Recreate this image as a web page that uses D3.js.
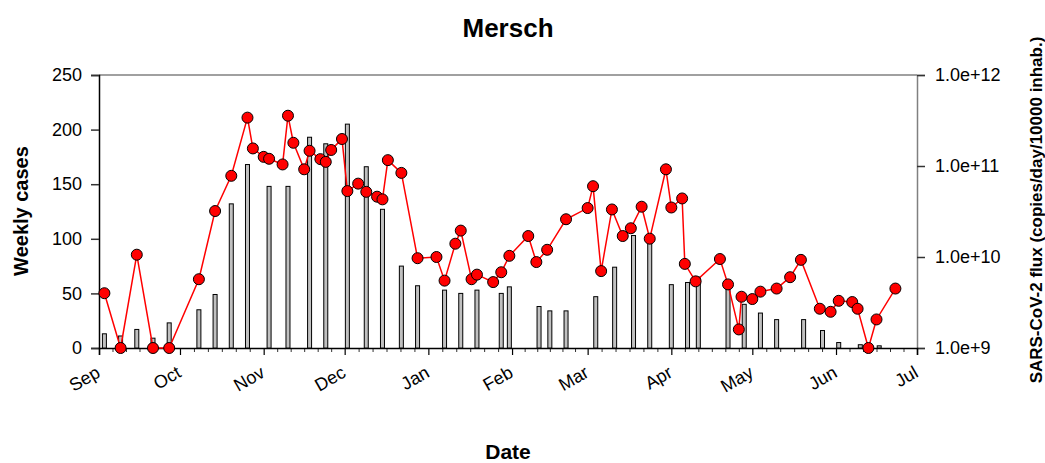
<!doctype html>
<html>
<head>
<title>Mersch</title>
<script src="https://d3js.org/d3.v7.min.js"></script>
<style>
body { margin: 0; background: #fff; }
svg text { font-family: Arial, "Liberation Sans", sans-serif; fill: #000; }
.tick text { font-size: 18px; }
</style>
</head>
<body>
<svg width="1045" height="463"></svg>
<script>

// weekly cases (bars)
var caseDates = ["2020-09-03","2020-09-09","2020-09-15","2020-09-21","2020-09-27","2020-10-08","2020-10-14",
  "2020-10-20","2020-10-26","2020-11-03","2020-11-10","2020-11-18","2020-11-24","2020-12-02","2020-12-09",
  "2020-12-15","2020-12-22","2020-12-28","2021-01-07","2021-01-13","2021-01-19","2021-01-28","2021-01-31",
  "2021-02-11","2021-02-15","2021-02-21","2021-03-04","2021-03-11","2021-03-18","2021-03-24","2021-04-01",
  "2021-04-07","2021-04-11","2021-04-22","2021-04-28","2021-05-04","2021-05-10","2021-05-20","2021-05-27",
  "2021-06-02","2021-06-10","2021-06-17"];
var caseValues = [13,11,17,9,23,35,49,132,168,148,148,193,187,205,166,127,75,57,53,50,53,50,56,
  38,34,34,47,74,103,98,58,60,65,56,40,32,26,26,16,5,3,2];

// SARS-CoV-2 flux (red points, log axis)
var fluxDates = ["2020-09-03","2020-09-09","2020-09-15","2020-09-21","2020-09-27","2020-10-08","2020-10-14",
  "2020-10-20","2020-10-26","2020-10-28","2020-11-01","2020-11-03","2020-11-08","2020-11-10","2020-11-12",
  "2020-11-16","2020-11-18","2020-11-22","2020-11-24","2020-11-26","2020-11-30","2020-12-02","2020-12-06",
  "2020-12-09","2020-12-13","2020-12-15","2020-12-17","2020-12-22","2020-12-28","2021-01-04","2021-01-07",
  "2021-01-11","2021-01-13","2021-01-17","2021-01-19","2021-01-25","2021-01-28","2021-01-31","2021-02-07",
  "2021-02-10","2021-02-14","2021-02-21","2021-03-01","2021-03-03","2021-03-06","2021-03-10","2021-03-14",
  "2021-03-17","2021-03-21","2021-03-24","2021-03-30","2021-04-01","2021-04-05","2021-04-06","2021-04-10",
  "2021-04-19","2021-04-22","2021-04-26","2021-04-27","2021-05-01","2021-05-04","2021-05-10","2021-05-15",
  "2021-05-19","2021-05-26","2021-05-30","2021-06-02","2021-06-07","2021-06-09","2021-06-13","2021-06-16",
  "2021-06-23"];
var fluxValues = [4.0e9,1.0e9,1.06e10,1.0e9,1.0e9,5.7e9,3.2e10,
  7.8e10,3.4e11,1.56e11,1.26e11,1.2e11,1.04e11,3.57e11,1.8e11,
  9.2e10,1.47e11,1.19e11,1.11e11,1.5e11,1.98e11,5.3e10,6.4e10,
  5.2e10,4.6e10,4.3e10,1.16e11,8.4e10,9.7e9,1.0e10,5.5e9,
  1.4e10,1.95e10,5.7e9,6.4e9,5.3e9,6.8e9,1.03e10,1.7e10,
  8.8e9,1.2e10,2.6e10,3.45e10,6.0e10,7.0e9,3.33e10,1.7e10,
  2.07e10,3.57e10,1.59e10,9.2e10,3.5e10,4.4e10,8.4e9,5.4e9,
  9.5e9,5.0e9,1.6e9,3.66e9,3.45e9,4.16e9,4.5e9,6.0e9,
  9.3e9,2.7e9,2.5e9,3.3e9,3.2e9,2.7e9,1.0e9,2.06e9,
  4.5e9];

// axes
var monthTicks = ["2020-09-01","2020-10-01","2020-11-01","2020-12-01","2021-01-01","2021-02-01",
  "2021-03-01","2021-04-01","2021-05-01","2021-06-01","2021-07-01"];
var monthLabels = ["Sep","Oct","Nov","Dec","Jan","Feb","Mar","Apr","May","Jun","Jul"];
var leftTicks = [0,50,100,150,200,250];
var rightTicks = [1e9,1e10,1e11,1e12];

var parse = d3.utcParse("%Y-%m-%d");
var svg = d3.select("svg");
var plot = {left: 99, right: 917, top: 75, bottom: 348};

var x = d3.scaleUtc()
    .domain([parse(monthTicks[0]), parse(monthTicks[monthTicks.length - 1])])
    .range([plot.left, plot.right]);
var y = d3.scaleLinear().domain([0, 250]).range([plot.bottom, plot.top]);
var y2 = d3.scaleLog().domain([1e9, 1e12]).range([plot.bottom, plot.top]);

// frame top line
svg.append("line")
    .attr("x1", plot.left).attr("x2", plot.right).attr("y1", plot.top).attr("y2", plot.top)
    .attr("stroke", "#808080").attr("stroke-width", 1.5);

// left axis
var gl = svg.append("g")
    .attr("transform", "translate(" + plot.left + ",0)")
    .call(d3.axisLeft(y).tickValues(leftTicks).tickSize(8).tickPadding(9));
gl.select(".domain").attr("stroke", "#000").attr("stroke-width", 1.5);
gl.selectAll(".tick line").attr("stroke", "#333").attr("stroke-width", 1.5);

// right axis
var gr = svg.append("g")
    .attr("transform", "translate(" + plot.right + ",0)")
    .call(d3.axisRight(y2).tickValues(rightTicks).tickFormat(d3.format(".1e")).tickSize(8).tickPadding(10));
gr.select(".domain").attr("stroke", "#808080").attr("stroke-width", 1.5);
gr.selectAll(".tick line").attr("stroke", "#333").attr("stroke-width", 1.5);

// bottom axis: month ticks + minor ticks
var minor = [];
var mt = monthTicks.map(parse);
for (var i = 0; i < mt.length - 1; i++) {
  var a = mt[i].getTime(), b = mt[i + 1].getTime();
  for (var k = 1; k < 6; k++) minor.push(new Date(a + (b - a) * k / 6));
}
var gm = svg.append("g")
    .attr("transform", "translate(0," + plot.bottom + ")")
    .call(d3.axisBottom(x).tickValues(minor).tickSize(4).tickFormat(""));
gm.select(".domain").remove();
gm.selectAll(".tick line").attr("stroke", "#333");

var gb = svg.append("g")
    .attr("transform", "translate(0," + plot.bottom + ")")
    .call(d3.axisBottom(x).tickValues(mt).tickSize(7).tickFormat(""));
gb.select(".domain").attr("stroke", "#000").attr("stroke-width", 1.5);
gb.selectAll(".tick line").attr("stroke", "#000").attr("stroke-width", 1.2);

svg.append("g").selectAll("text")
    .data(monthLabels)
    .enter().append("text")
    .attr("transform", function(d, i) { return "translate(" + (x(mt[i]) - 4) + "," + (plot.bottom + 17) + ") rotate(-30)"; })
    .attr("text-anchor", "end")
    .attr("dy", "0.71em")
    .style("font-size", "18px")
    .text(function(d) { return d; });

// bars
var bw = 4;
svg.append("g").selectAll("rect")
    .data(caseDates)
    .enter().append("rect")
    .attr("x", function(d) { return x(parse(d)) - bw / 2; })
    .attr("y", function(d, i) { return y(caseValues[i]); })
    .attr("width", bw)
    .attr("height", function(d, i) { return plot.bottom - y(caseValues[i]); })
    .attr("fill", "#c0c0c0")
    .attr("stroke", "#000")
    .attr("stroke-width", 1);

// flux line + points
var flux = fluxDates.map(function(d, i) { return {date: parse(d), v: fluxValues[i]}; });
svg.append("path")
    .datum(flux)
    .attr("fill", "none")
    .attr("stroke", "#ff0000")
    .attr("stroke-width", 1.5)
    .attr("d", d3.line().x(function(d) { return x(d.date); }).y(function(d) { return y2(d.v); }));

svg.append("g").selectAll("circle")
    .data(flux)
    .enter().append("circle")
    .attr("cx", function(d) { return x(d.date); })
    .attr("cy", function(d) { return y2(d.v); })
    .attr("r", 5.5)
    .attr("fill", "#ff0000")
    .attr("stroke", "#000")
    .attr("stroke-width", 1);

// titles
svg.append("text")
    .attr("x", 508).attr("y", 37)
    .attr("text-anchor", "middle")
    .style("font-size", "26px").style("font-weight", "bold")
    .text("Mersch");

svg.append("text")
    .attr("x", 508).attr("y", 459)
    .attr("text-anchor", "middle")
    .style("font-size", "21px").style("font-weight", "bold")
    .text("Date");

svg.append("text")
    .attr("transform", "translate(28,211) rotate(-90)")
    .attr("text-anchor", "middle")
    .style("font-size", "20px").style("font-weight", "bold")
    .text("Weekly cases");

svg.append("text")
    .attr("transform", "translate(1042,210) rotate(-90)")
    .attr("text-anchor", "middle")
    .style("font-size", "17px").style("font-weight", "bold")
    .text("SARS-CoV-2 flux (copies/day/10000 inhab.)");

</script>
</body>
</html>
